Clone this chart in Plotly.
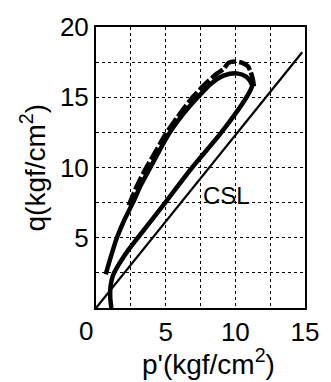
import plotly.graph_objects as go

# CSL line (critical state line)
csl_p = [0.0, 14.8]
csl_q = [0.0, 18.2]

# Solid stress path: lower branch going up, then peak, then upper branch going down
path_p = [1.1, 1.02, 1.05, 1.25, 1.7, 2.3, 3.0, 4.97, 6.9, 9.0, 10.8, 11.2,
          11.15, 10.8, 10.1, 9.2, 8.3, 7.3, 6.25, 5.3, 4.55, 3.9, 3.25, 2.65, 2.05, 1.5, 1.05, 0.7]
path_q = [0.0, 0.8, 1.6, 2.4, 3.2, 4.1, 5.0, 7.5, 10.0, 12.5, 15.0, 15.8,
          16.0, 16.45, 16.7, 16.55, 16.0, 15.0, 13.8, 12.5, 11.2, 10.0, 8.8, 7.5, 6.3, 5.0, 3.6, 2.4]

# Dashed stress path (along the upper branch, with a curl at the peak)
dash_p = [2.35, 2.9, 3.5, 4.2, 4.95, 5.85, 6.85, 7.9, 8.7, 9.15, 9.5, 10.0, 10.5, 10.9, 11.1, 11.25, 11.35]
dash_q = [7.3, 8.6, 9.8, 11.0, 12.3, 13.6, 14.9, 16.0, 16.7, 17.0, 17.45, 17.55, 17.45, 17.2, 16.8, 16.3, 15.7]

x_major = [5, 10, 15]
x_labels = ["5", "10", "15"]
x_minor = [2.5, 7.5, 12.5]
y_major = [5, 10, 15, 20]
y_labels = ["5", "10", "15", "20"]
y_minor = [2.5, 7.5, 12.5, 17.5]

FONT = "Liberation Sans, Arial, Helvetica, sans-serif"

fig = go.Figure()
fig.add_trace(go.Scatter(x=csl_p, y=csl_q, mode="lines",
                         line=dict(color="black", width=2.2), showlegend=False))
fig.add_trace(go.Scatter(x=path_p, y=path_q, mode="lines",
                         line=dict(color="black", width=4.5, shape="spline", smoothing=0.8),
                         showlegend=False))
fig.add_trace(go.Scatter(x=dash_p, y=dash_q, mode="lines",
                         line=dict(color="black", width=4.5, dash="14px,3px",
                                   shape="spline", smoothing=0.6),
                         showlegend=False))

fig.add_annotation(x=9.4, y=8.0, text="CSL", showarrow=False,
                   font=dict(family=FONT, size=24, color="black"))
fig.add_annotation(x=0, y=0, xref="x", yref="paper", text="0", showarrow=False,
                   xanchor="center", yanchor="top", xshift=-10, yshift=-6,
                   font=dict(family=FONT, size=26, color="black"))
fig.add_annotation(x=0, y=0.5, xref="paper", yref="paper", text="q(kgf/cm<sup>2</sup>)",
                   showarrow=False, textangle=-90, xanchor="center", yanchor="middle",
                   xshift=-63, font=dict(family=FONT, size=28, color="black"))
fig.add_annotation(x=0.5, y=0, xref="paper", yref="paper", text="p'(kgf/cm<sup>2</sup>)",
                   showarrow=False, xanchor="center", yanchor="middle",
                   xshift=8, yshift=-54, font=dict(family=FONT, size=28, color="black"))

axis_common = dict(showline=True, mirror=True, linecolor="black", linewidth=2,
                   showgrid=True, gridcolor="black", gridwidth=1.3, griddash="dot",
                   zeroline=False, ticks="", tickfont=dict(family=FONT, size=26, color="black"))
fig.update_xaxes(range=[0, 15], tickmode="array", tickvals=x_major, ticktext=x_labels,
                 minor=dict(tickmode="array", tickvals=x_minor, showgrid=True, gridcolor="black",
                            gridwidth=1.3, griddash="dot", ticks=""),
                 **axis_common)
fig.update_yaxes(range=[0, 20], tickmode="array", tickvals=y_major, ticktext=y_labels,
                 minor=dict(tickmode="array", tickvals=y_minor, showgrid=True, gridcolor="black",
                            gridwidth=1.3, griddash="dot", ticks=""),
                 **axis_common)

fig.update_layout(width=331, height=382, margin=dict(l=96, r=16, t=20, b=74),
                  paper_bgcolor="white", plot_bgcolor="white")
fig.write_html("out.html")
